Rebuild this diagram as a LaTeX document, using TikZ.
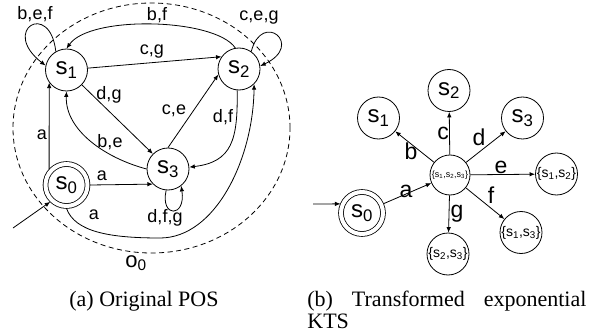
\documentclass[tikz,border=0pt]{standalone}
\usepackage{fontspec}
\setmainfont{Liberation Serif}
\newfontfamily\lsans{Liberation Sans}
\usetikzlibrary{arrows.meta}
\newcommand\lsub[1]{\textsubscript{#1}}
\begin{document}
\begin{tikzpicture}[x=1pt,y=-1pt,line width=0.8pt,
  st/.style={circle,draw,minimum size=42pt,inner sep=0pt,font=\lsans\fontsize{24}{24}\selectfont},
  ini/.style={st,double,double distance=4pt,outer sep=2.4pt},
  arr/.style={-{Latex[length=5.5pt,width=4.5pt]}},
  lab/.style={font=\lsans\fontsize{18}{18}\selectfont,anchor=base,inner sep=0pt},
  labR/.style={font=\lsans\fontsize{23}{23}\selectfont,anchor=base,inner sep=0pt},
  captxt/.style={font=\fontsize{22}{24}\selectfont,anchor=base west,inner sep=0pt}]
\useasboundingbox (0,0) rectangle (597,334);
% ---------- (a) ----------
\draw[dash pattern=on 5pt off 3.5pt] (151.5,128) ellipse [x radius=138.5pt, y radius=125pt];
\node[st] (s1) at (66.5,70) {s\lsub1};
\node[st] (s2) at (239,69) {s\lsub2};
\node[st] (s3) at (168,169) {s\lsub3};
\node[ini] (s0) at (66.5,185) {s\lsub0};
\coordinate (i0) at (13,228);
\draw[arr] (i0) -- (s0.-134);
\draw[arr] (s0.138) -- (s1.216);
\draw[arr] (s0.0) -- (s3.-135);
\draw[arr] (s0.south) .. controls (75,232) and (110,238) .. (160,238) .. controls (215,238) and (253,160) .. (s2.-45);
\draw[arr] (s3.-95) .. controls (160,218) and (186,218) .. (s3.-52);
\draw[arr] (s1.120) .. controls (50,0) and (0,30) .. (s1.168);
\draw[arr] (s2.55) .. controls (262,10) and (305,45) .. (s2.8);
\draw[arr] (s2.100) .. controls (215,18) and (90,15) .. (s1.90);
\draw[arr] (s1.5) -- (s2.145);
\draw[arr] (s1.-44) -- (s3.135);
\draw[arr] (s3.90) -- (s2.195);
\draw[arr] (s2.-95) .. controls (238,140) and (232,162) .. (s3.5);
\draw[arr] (s3.180) .. controls (105,158) and (65,130) .. (s1.-90);
\node[lab] (l1) at (35,20) {b,e,f};
\node[lab] (l2) at (259,21) {c,e,g};
\node[lab] (l3) at (157,21) {b,f};
\node[lab] (l4) at (152,55) {c,g};
\node[lab] (l5) at (109,100) {d,g};
\node[lab] (l6) at (174,115) {c,e};
\node[lab] (l7) at (223,123) {d,f};
\node[lab] (l8) at (42,140) {a};
\node[lab] (l9) at (110,147) {b,e};
\node[lab] (l10) at (102,180) {a};
\node[lab] (l11) at (94,219) {a};
\node[lab] (l12) at (165,222) {d,f,g};
\node[lab,font=\lsans\fontsize{22}{22}\selectfont] (l13) at (136,267) {o\lsub0};
% ---------- (b) ----------
\node[st] (r1) at (378.5,118) {s\lsub1};
\node[st] (r2) at (449,90.5) {s\lsub2};
\node[st] (r3) at (522.5,118) {s\lsub3};
\node[ini] (r0) at (362,213) {s\lsub0};
\node[st,minimum size=40pt,font=\lsans\fontsize{9}{9}\selectfont] (rc) at (450,175) {\{s\lsub1,s\lsub2,s\lsub3\}};
\node[st,font=\lsans\fontsize{14}{14}\selectfont] (re) at (556.5,174) {\{s\lsub1,s\lsub2\}};
\node[st,font=\lsans\fontsize{14}{14}\selectfont] (rf) at (521,232.5) {\{s\lsub1,s\lsub3\}};
\node[st,font=\lsans\fontsize{14}{14}\selectfont] (rg) at (448,254) {\{s\lsub2,s\lsub3\}};
\coordinate (i1) at (313,204);
\draw[arr] (i1) -- (r0.157);
\draw[arr] (r0) -- (rc);
\draw[arr] (rc) -- (r1);
\draw[arr] (rc) -- (r2);
\draw[arr] (rc) -- (r3);
\draw[arr] (rc) -- (re);
\draw[arr] (rc) -- (rf);
\draw[arr] (rc) -- (rg);
\node[labR] (m1) at (406,197) {a};
\node[labR] (m2) at (411,160) {b};
\node[labR] (m3) at (443,140) {c};
\node[labR] (m4) at (479,146) {d};
\node[labR] (m5) at (501,173) {e};
\node[labR] (m6) at (491,203) {f};
\node[labR] (m7) at (457,217) {g};
% ---------- captions ----------
\node[captxt] (ca) at (69,306) {(a) Original POS};
\node[captxt] (cb1) at (307,306) {\hbox to 279pt{(b)\hfill Transformed\hfill exponential}};
\node[captxt] (cb2) at (307,328) {KTS};
\end{tikzpicture}
\end{document}
